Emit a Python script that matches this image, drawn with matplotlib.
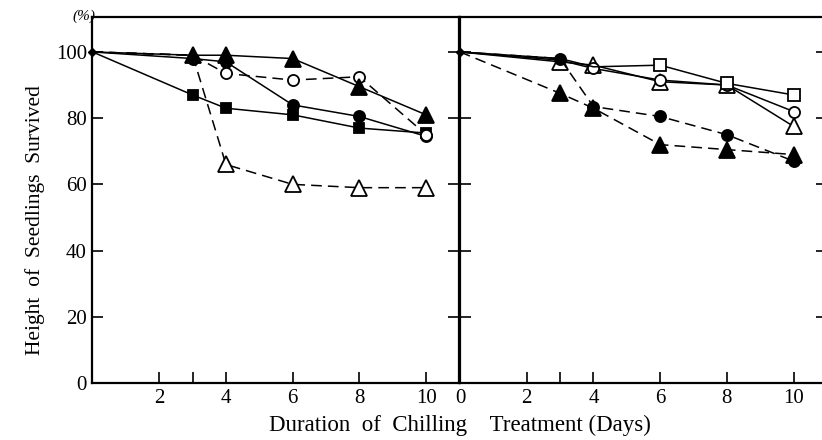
import matplotlib.pyplot as plt

plt.rcParams['font.family'] = ['Liberation Serif', 'DejaVu Serif']

days = [0, 3, 4, 6, 8, 10]

# left panel
l_tri_fill = [100, 99, 99, 98, 89.5, 81]        # solid
l_circ_open = [100, 99, 93.5, 91.5, 92.5, 75]   # dashed
l_circ_fill = [100, 98, 97, 84, 80.5, 74.5]     # solid
l_sq_fill = [100, 87, 83, 81, 77, 75.5]         # solid
l_tri_open = [100, 99, 66, 60, 59, 59]          # dashed

# right panel
r_sq_open = [100, 98, 95.5, 96, 90.5, 87]       # solid
r_circ_open = [100, 97.5, 95, 91.5, 90, 82]     # solid
r_tri_open = [100, 97, 96, 91, 90, 77.5]        # solid
r_circ_fill = [100, 98, 83.5, 80.5, 75, 67]     # dashed
r_tri_fill = [100, 87.5, 83, 72, 70.5, 69]      # dashed

fig = plt.figure(figsize=(8.22, 4.4), dpi=100)
ax1 = fig.add_axes([0.1125, 0.1295, 0.4465, 0.8315])
ax2 = fig.add_axes([0.5596, 0.1295, 0.4465, 0.8315])

lw = 1.1
dash = (0, (7, 4))

def line(ax, y, marker, filled, ls, ms, every=(1, 2, 3, 4, 5)):
    ax.plot(days, y, color='black', lw=lw, linestyle=ls, marker=marker, ms=ms,
            markevery=list(every), mfc='black' if filled else 'white',
            mec='black', mew=1.3, clip_on=False)

line(ax1, l_sq_fill, 's', True, '-', 7)
line(ax1, l_circ_fill, 'o', True, '-', 8)
line(ax1, l_tri_open, '^', False, dash, 11, (2, 3, 4, 5))
line(ax1, l_circ_open, 'o', False, dash, 8, (2, 3, 4, 5))
line(ax1, l_tri_fill, '^', True, '-', 11)

line(ax2, r_tri_fill, '^', True, dash, 11)
line(ax2, r_tri_open, '^', False, '-', 11)
line(ax2, r_circ_fill, 'o', True, dash, 8)
line(ax2, r_circ_open, 'o', False, '-', 8, (2, 3, 4, 5))
line(ax2, r_sq_open, 's', False, '-', 8, (3, 4, 5))

for ax in (ax1, ax2):
    ax.plot(0, 100, marker='D', ms=4, color='black', clip_on=False)
    ax.set_xlim(0, 11)
    ax.set_ylim(0, 110.5)
    ax.set_xticks([2, 3, 4, 6, 8, 10])
    ax.set_xticklabels(['2', '', '4', '6', '8', '10'])
    ax.set_yticks([0, 20, 40, 60, 80, 100])
    ax.tick_params(direction='in', length=8, width=1.2, right=True, top=False,
                   labelsize=15, pad=4)
    for s in ax.spines.values():
        s.set_linewidth(1.6)

ax2.set_xticks([0, 2, 3, 4, 6, 8, 10])
ax2.set_xticklabels(['0', '2', '', '4', '6', '8', '10'])
ax2.tick_params(labelleft=False)

ax1.set_ylabel('Height  of  Seedlings  Survived', fontsize=15.5)
ax1.yaxis.set_label_coords(-0.13, 0.445)
fig.text(0.56, 0.008, 'Duration  of  Chilling    Treatment (Days)', ha='center',
         va='bottom', fontsize=16.5)
fig.text(0.102, 0.962, '(%)', ha='center', va='center', fontsize=11, style='italic')

fig.savefig('out.png', dpi=100)
